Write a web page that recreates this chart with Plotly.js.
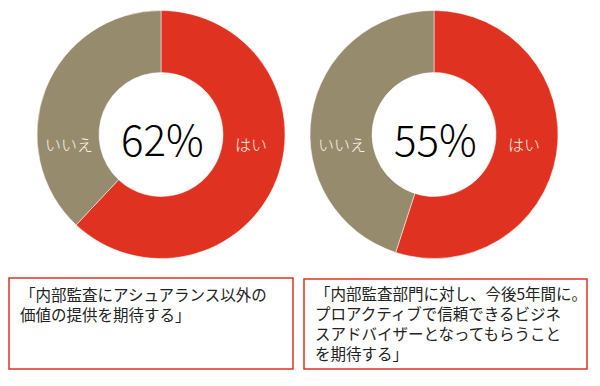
<!DOCTYPE html>
<html><head><meta charset="utf-8">
<script src="https://cdn.plot.ly/plotly-3.0.1.min.js"></script>
<style>html,body{margin:0;padding:0;background:#fff}#c{width:600px;height:386px}</style>
</head><body><div id="c"></div>
<script>
const categories = ["はい", "いいえ"];
const valuesLeft = [62, 38];
const valuesRight = [55, 45];
const centerLabels = ["62%", "55%"];
const captions = [
  "「内部監査にアシュアランス以外の<br>価値の提供を期待する」",
  "「内部監査部門に対し、今後5年間に。<br>プロアクティブで信頼できるビジネ<br>スアドバイザーとなってもらうこと<br>を期待する」"
];
const colors = ["#E03220", "#978B6E"];
const W = 600, H = 386;
const px = x => x / W, py = y => (H - y) / H;
const font = "Noto Sans CJK JP, Noto Sans, sans-serif";

const pies = [
  {vals: valuesLeft, cx: 161, cy: 134.5, r: 124},
  {vals: valuesRight, cx: 434, cy: 134.5, r: 124}
];
const data = pies.map(p => ({
  type: "pie", labels: categories, values: p.vals, hole: 0.5, sort: false,
  direction: "clockwise", rotation: 0, textinfo: "none", hoverinfo: "none",
  marker: {colors: colors, line: {color: "#ffffff", width: 0.5}},
  domain: {x: [px(p.cx - p.r), px(p.cx + p.r)], y: [py(p.cy + p.r), py(p.cy - p.r)]},
  showlegend: false
}));

const annotations = [];
const mid = {xref: "paper", yref: "paper", xanchor: "center", yanchor: "middle", showarrow: false};
pies.forEach((p, i) => {
  annotations.push(Object.assign({x: px(p.cx + 1), y: py(p.cy + 3), text: centerLabels[i],
    font: {family: font, size: 42, color: "#000", weight: 300}}, mid));
  annotations.push(Object.assign({x: px(p.cx + 90), y: py(p.cy + 9), text: categories[0],
    font: {family: font, size: 16, color: "#FFF6E8", weight: 300}}, mid));
  annotations.push(Object.assign({x: px(p.cx - 92), y: py(p.cy + 9), text: categories[1],
    font: {family: font, size: 16, color: "#FFF6E8", weight: 300}}, mid));
});
const boxes = [[9, 278, 293, 369], [304, 279, 587, 369]];
const textPos = [[18, 281], [313, 280]];
const shapes = boxes.map(b => ({type: "rect", xref: "paper", yref: "paper",
  x0: px(b[0]), x1: px(b[2]), y0: py(b[3]), y1: py(b[1]), line: {color: "#E03220", width: 1.5}}));
captions.forEach((t, i) => {
  annotations.push({x: px(textPos[i][0]), y: py(textPos[i][1]), xref: "paper", yref: "paper", text: t,
    xanchor: "left", yanchor: "top", align: "left", showarrow: false,
    font: {family: font, size: 15.5, color: "#222"}});
});

Plotly.newPlot("c", data, {
  width: W, height: H, margin: {l: 0, r: 0, t: 0, b: 0},
  paper_bgcolor: "#fff", plot_bgcolor: "#fff",
  annotations: annotations, shapes: shapes
}, {staticPlot: true});
</script></body></html>
